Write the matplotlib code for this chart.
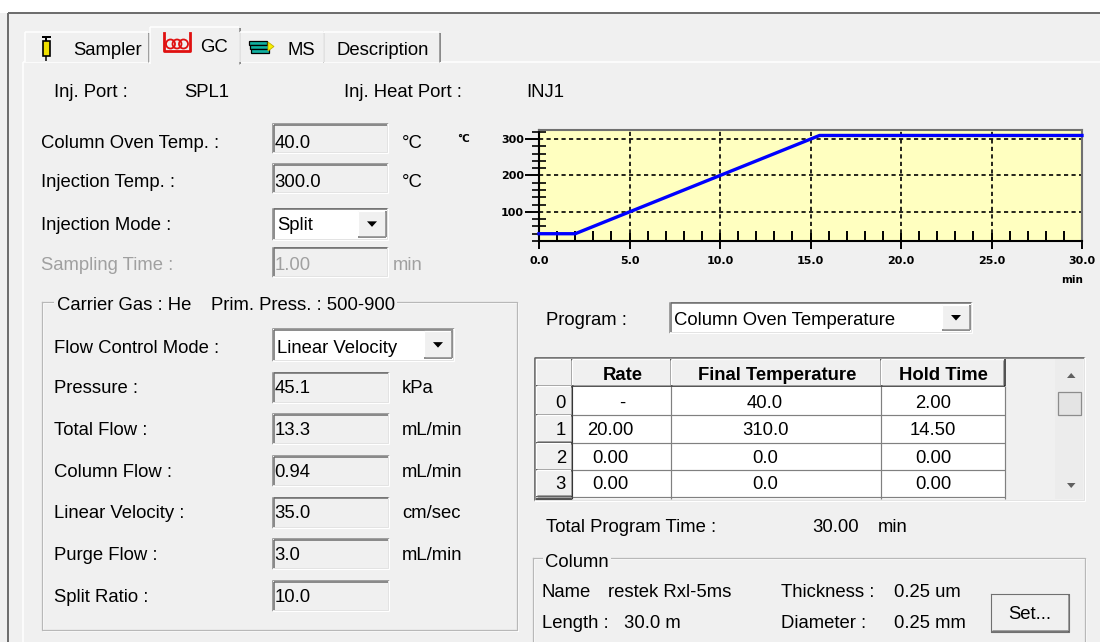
import matplotlib
matplotlib.use("Agg")
import matplotlib.pyplot as plt
from matplotlib.patches import Rectangle, Polygon, Circle
from matplotlib.ticker import MultipleLocator, FormatStrFormatter

plt.rcParams['font.family'] = ['Liberation Sans', 'DejaVu Sans']

# ---- data ----
prog_time = [0.0, 2.0, 15.5, 30.0]      # min
prog_temp = [40.0, 40.0, 310.0, 310.0]  # degC

tab_names = ["Sampler", "GC", "MS", "Description"]

upper_labels = ["Column Oven Temp. :", "Injection Temp. :", "Injection Mode :", "Sampling Time :"]
upper_values = ["40.0", "300.0", "Split", "1.00"]
upper_units = ["\u00b0C", "\u00b0C", "", "min"]

flow_labels = ["Pressure :", "Total Flow :", "Column Flow :", "Linear Velocity :", "Purge Flow :", "Split Ratio :"]
flow_values = ["45.1", "13.3", "0.94", "35.0", "3.0", "10.0"]
flow_units = ["kPa", "mL/min", "mL/min", "cm/sec", "mL/min", ""]

table_header = ["Rate", "Final Temperature", "Hold Time"]
table_rows = ["0", "1", "2", "3"]
rate_col = ["-", "20.00", "0.00", "0.00"]
final_col = ["40.0", "310.0", "0.0", "0.0"]
hold_col = ["2.00", "14.50", "0.00", "0.00"]

W, H = 1100, 642
BG = '#f0f0f0'
FS = 13.3
GREY_TXT = '#a0a0a0'

fig = plt.figure(figsize=(W / 100, H / 100), dpi=100)
fig.patch.set_facecolor(BG)
ui = fig.add_axes([0, 0, 1, 1])
ui.set_xlim(0, W)
ui.set_ylim(H, 0)
ui.axis('off')


def line(x0, y0, x1, y1, c, w=1.0, z=2):
    ui.plot([x0, x1], [y0, y1], color=c, lw=w * 0.72, solid_capstyle='butt', zorder=z)


def box(x0, y0, x1, y1, fc, z=1):
    ui.add_patch(Rectangle((x0, y0), x1 - x0, y1 - y0, facecolor=fc, edgecolor='none', zorder=z))


def txt(x, y, s, color='black', ha='left', weight='normal', size=FS, **kw):
    ui.text(x, y, s, ha=ha, va='baseline', color=color, fontsize=size, fontweight=weight, zorder=5, **kw)


def sunken(x0, y0, x1, y1, fc=BG):
    box(x0, y0, x1, y1, fc)
    line(x0, y0, x1, y0, '#a0a0a0')
    line(x0, y0, x0, y1, '#a0a0a0')
    line(x0 + 1.5, y0 + 1.5, x1 - 1, y0 + 1.5, '#696969', 1.5)
    line(x0 + 1.5, y0 + 1.5, x0 + 1.5, y1 - 1, '#696969', 1.5)
    line(x0, y1, x1, y1, '#ffffff')
    line(x1, y0, x1, y1, '#ffffff')
    line(x0 + 1, y1 - 1, x1 - 1, y1 - 1, '#e3e3e3')
    line(x1 - 1, y0 + 1, x1 - 1, y1 - 1, '#e3e3e3')


def raised(x0, y0, x1, y1, fc=BG, dark='#696969'):
    box(x0, y0, x1, y1, fc, z=2)
    line(x0, y0, x1, y0, '#ffffff', 1.2, z=3)
    line(x0, y0, x0, y1, '#ffffff', 1.2, z=3)
    line(x0, y1, x1, y1, dark, 1.5, z=3)
    line(x1, y0, x1, y1, dark, 1.5, z=3)
    line(x0 + 1, y1 - 1.5, x1 - 1.5, y1 - 1.5, '#a0a0a0', 1, z=3)
    line(x1 - 1.5, y0 + 1, x1 - 1.5, y1 - 1.5, '#a0a0a0', 1, z=3)


def dropdown(x0, y0, x1, y1, s, base):
    sunken(x0, y0, x1, y1, 'white')
    bx0 = x1 - 30
    raised(bx0, y0 + 3, x1 - 2, y1 - 3)
    cx, cy = (bx0 + x1 - 2) / 2, (y0 + y1) / 2
    ui.add_patch(Polygon([[cx - 5, cy - 2.5], [cx + 5, cy - 2.5], [cx, cy + 3]], closed=True,
                         facecolor='black', edgecolor='none', zorder=4))
    txt(x0 + 5, base, s)


def groupbox(x0, y0, x1, y1):
    ui.plot([x0, x1, x1, x0, x0], [y0, y0, y1, y1, y0], color='#b8b8b8', lw=0.9, zorder=2)
    ui.plot([x0 + 1, x1 + 1, x1 + 1, x0 + 1, x0 + 1], [y0 + 1, y0 + 1, y1 + 1, y1 + 1, y0 + 1],
            color='white', lw=0.8, zorder=1.9)


# ---- window frame and tabs ----
box(0, 0, W, 13, 'white')
line(8, 13, W, 13, '#6e6e6e', 2)
line(8, 13, 8, H, '#6e6e6e', 2)
line(23, 62, W, 62, 'white', 1.5)
line(23, 62, 23, H, 'white', 1.5)

tab_x = [(25, 149), (150, 240), (240, 324), (324, 440)]
tab_top = [31.7, 26.7, 31.7, 31.7]
tab_text_x = [73.5, 200, 287.5, 336.5]
tab_base = [55, 51.7, 55, 55]
for i, name in enumerate(tab_names):
    x0, x1 = tab_x[i]
    y0 = tab_top[i]
    y1 = 63.5 if i == 1 else 61.5
    box(x0, y0, x1, y1, BG, z=3)
    line(x0, y0, x1 - 1, y0, 'white', 1.5, z=3.5)
    line(x0, y0, x0, y1, 'white', 1.5, z=3.5)
    line(x1, y0 + 1, x1, y1, '#696969', 1.5, z=3.5)
    line(x1 - 1.5, y0 + 1, x1 - 1.5, y1, '#a0a0a0', 1, z=3.5)
    txt(tab_text_x[i], tab_base[i], name)

# syringe icon
ui.add_patch(Rectangle((42.5, 41), 7, 15, facecolor='#f0e000', edgecolor='black', lw=1.2, zorder=4))
line(41.5, 36.5, 50.5, 36.5, 'black', 2, z=4)
line(46, 36.5, 46, 41, 'black', 2, z=4)
line(46, 56, 46, 61, 'black', 1.5, z=4)
# GC coil icon
ui.plot([164, 164, 190, 190], [33, 51, 51, 33], color='#e01010', lw=2.0, zorder=4)
for cx in [170.5, 177, 183.5]:
    ui.add_patch(Circle((cx, 44), 4.5, facecolor='none', edgecolor='#e01010', lw=1.3, zorder=4))
# MS icon
for k, yy in enumerate([41, 45, 49]):
    ui.add_patch(Rectangle((249 + k, yy), 18, 3.5, facecolor='#10b0a0', edgecolor='black', lw=0.9, zorder=4))
ui.add_patch(Polygon([[268, 42], [274, 46.5], [268, 51]], closed=True, facecolor='#f8f000',
                     edgecolor='#c0b000', lw=0.6, zorder=4))

# ---- injection port row ----
txt(54, 97.3, "Inj. Port :")
txt(184, 97.3, "SPL1")
txt(344, 97.3, "Inj. Heat Port :")
txt(526, 97.3, "INJ1")

# ---- upper fields ----
upper_base = [147.5, 187, 229.5, 269.5]
upper_box = [(123.3, 153.3), (163.3, 193.3), (207.7, 240), (246.7, 276.7)]
for i, lab in enumerate(upper_labels):
    col = GREY_TXT if i == 3 else 'black'
    txt(41, upper_base[i], lab, color=col)
    y0, y1 = upper_box[i]
    if i == 2:
        dropdown(272, y0, 388, y1, upper_values[i], upper_base[i])
    else:
        sunken(272, y0, 388, y1)
        txt(274.5, upper_base[i], upper_values[i], color=col)
    if upper_units[i]:
        txt(402 if i < 3 else 393, upper_base[i], upper_units[i], color=col)

# ---- carrier gas group ----
groupbox(42, 302.3, 516.5, 630)
box(54, 295, 397, 311, BG, z=2.5)
txt(57, 309.5, "Carrier Gas : He")
txt(211, 309.5, "Prim. Press. : 500-900")
txt(54, 353.3, "Flow Control Mode :")
dropdown(272, 328.3, 454, 361, "Linear Velocity", 353.3)
flow_center = [386.7, 428.3, 470, 511.7, 553.3, 595]
for i, lab in enumerate(flow_labels):
    yc = flow_center[i]
    txt(54, yc + 6.6, lab)
    sunken(272, yc - 15, 389, yc + 16)
    txt(274.5, yc + 6.6, flow_values[i])
    if flow_units[i]:
        txt(402, yc + 6.6, flow_units[i])

# ---- program selector ----
txt(546, 325, "Program :")
dropdown(669, 301.7, 972, 333.3, "Column Oven Temperature", 325)

# ---- program table ----
sunken(533.5, 356.5, 1085, 500.5, BG)
col_edges = [536, 572, 671, 881, 1004.5]
row_edges = [386, 415, 442.7, 470, 496.7, 498.5]
# data cells
box(col_edges[1], row_edges[0], col_edges[4], 498.5, 'white', z=1.5)
for xe in col_edges[1:]:
    line(xe, row_edges[0], xe, 498.5, '#808080', 1.2, z=2.5)
for ye in row_edges[1:-1]:
    line(col_edges[1], ye, col_edges[4], ye, '#808080', 1.2, z=2.5)
# header
for j in range(4):
    raised(col_edges[j], 359, col_edges[j + 1], row_edges[0], dark='#202020')
head_cx = [622.5, 777, 943]
for j, h in enumerate(table_header):
    txt(head_cx[j], 380, h, ha='center', weight='bold')
# row headers
for r in range(5):
    raised(col_edges[0], row_edges[r], col_edges[1], min(row_edges[r + 1], 498.5), dark='#202020')
row_base = [408, 435, 462.6, 489.3]
rate_cx = [622, 610.5, 610.5, 610.5]
for r, lab in enumerate(table_rows):
    txt(566, row_base[r], lab, ha='right')
    txt(rate_cx[r], row_base[r], rate_col[r], ha='center')
    txt(765, row_base[r], final_col[r], ha='center')
    txt(933, row_base[r], hold_col[r], ha='center')
# scrollbar
box(1055, 359, 1083, 498.5, '#ececec', z=2)
ui.add_patch(Polygon([[1067, 378], [1075.5, 378], [1071.2, 373]], closed=True, facecolor='#606060',
                     edgecolor='none', zorder=4))
ui.add_patch(Polygon([[1067, 483], [1075.5, 483], [1071.2, 488]], closed=True, facecolor='#606060',
                     edgecolor='none', zorder=4))
ui.add_patch(Rectangle((1057.5, 391.7), 23, 23.5, facecolor='#e4e4e4', edgecolor='#8c8c8c', lw=0.9, zorder=4))

# ---- totals and column group ----
txt(546, 531.6, "Total Program Time :")
txt(812, 531.6, "30.00")
txt(878, 531.6, "min")
groupbox(533, 558.3, 1085, 680)
txt(545, 566.6, "Column", bbox=dict(facecolor=BG, edgecolor='none', pad=1.5))
txt(541.5, 596.6, "Name")
txt(608, 596.6, "restek Rxl-5ms")
txt(781, 596.6, "Thickness :")
txt(894, 596.6, "0.25 um")
txt(541.5, 628.3, "Length :")
txt(624, 628.3, "30.0 m")
txt(781, 628.3, "Diameter :")
txt(894, 628.3, "0.25 mm")
raised(990.5, 594, 1069, 631.7, dark='#505050')
ui.plot([990.5, 1069, 1069, 990.5, 990.5], [594, 594, 631.7, 631.7, 594], color='#707070', lw=0.8, zorder=3.5)
txt(1030, 619, "Set...", ha='center')

# ---- temperature program chart ----
x0, x1, y0, y1 = 539, 1082, 130, 241
ax = fig.add_axes([x0 / W, 1 - y1 / H, (x1 - x0) / W, (y1 - y0) / H])
ax.set_facecolor('#ffffc0')
ax.plot(prog_time, prog_temp, color='#0000ff', lw=2.4, zorder=3, clip_on=False)
ax.set_xlim(0, 30)
ax.set_ylim(20, 325)
ax.xaxis.set_major_locator(MultipleLocator(5))
ax.xaxis.set_minor_locator(MultipleLocator(1))
ax.yaxis.set_major_locator(MultipleLocator(100))
ax.yaxis.set_minor_locator(MultipleLocator(20))
ax.xaxis.set_major_formatter(FormatStrFormatter('%.1f'))
ax.yaxis.set_major_formatter(FormatStrFormatter('%d'))
ax.grid(True, which='major', color='black', ls=(0, (2.5, 2)), lw=1.2)
ax.tick_params(axis='x', which='major', direction='inout', length=12, width=1.4, pad=5,
               labelsize=8, colors='black')
ax.tick_params(axis='x', which='minor', direction='in', length=7, width=1.4)
ax.tick_params(axis='y', which='major', direction='out', length=10, width=1.4, pad=1,
               labelsize=8)
ax.tick_params(axis='y', which='minor', direction='inout', length=10, width=1.2)
for lab in ax.get_xticklabels() + ax.get_yticklabels():
    lab.set_fontweight('bold')
    lab.set_family('DejaVu Sans')
for s in ['left', 'bottom']:
    ax.spines[s].set_color('black')
    ax.spines[s].set_linewidth(1.5)
for s in ['top', 'right']:
    ax.spines[s].set_color('#707070')
    ax.spines[s].set_linewidth(1.5)
ui.text(463, 139, "\u00b0C", ha='center', va='center', fontsize=7.5, fontweight='bold', family='DejaVu Sans')
ui.text(1072, 280, "min", ha='center', va='center', fontsize=7.5, fontweight='bold', family='DejaVu Sans')

fig.savefig("out.png", dpi=100, facecolor=BG)
